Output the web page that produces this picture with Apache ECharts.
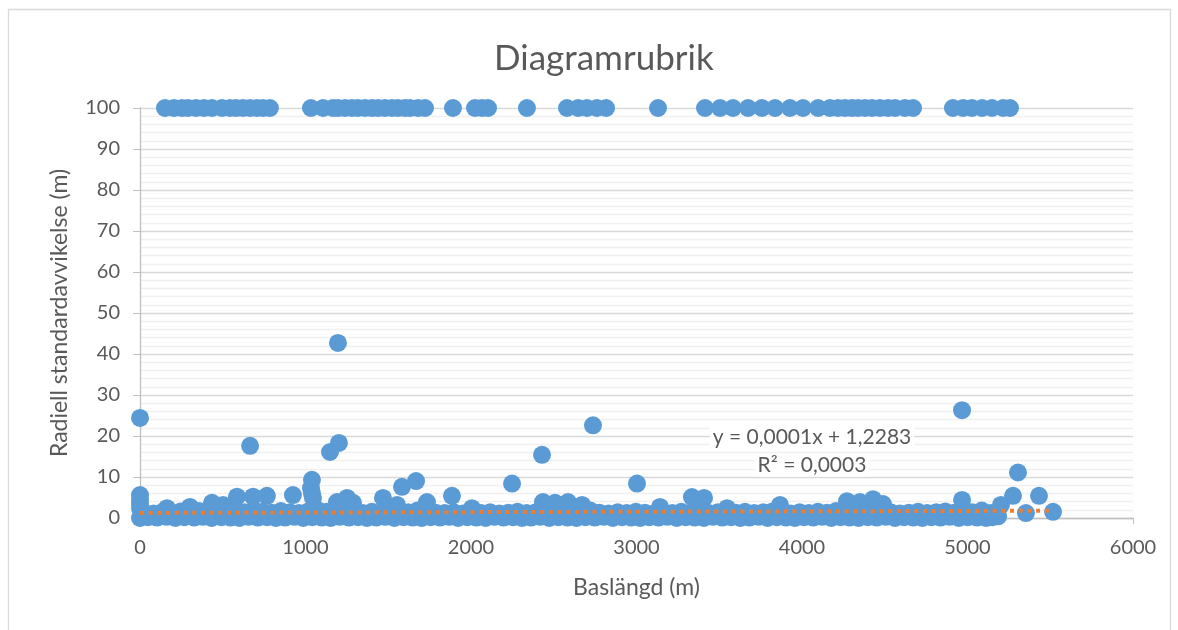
<!DOCTYPE html>
<html lang="sv">
<head>
    <meta charset="UTF-8">
    <script type="text/javascript" src="https://cdn.jsdelivr.net/npm/echarts@6/dist/echarts.min.js"></script>
    <style>
        html, body { margin: 0; padding: 0; background: #ffffff; }
        #main { width: 1178px; height: 630px; }
    </style>
</head>
<body>
    <div id="main"></div>
    <script type="text/javascript">
        // punkter som ligger på taket 100 m
        var topX = [151, 205, 254, 290, 338, 387, 435, 495, 544, 580, 622, 665, 707, 743, 785,
            1033, 1106, 1166, 1196, 1239, 1281, 1317, 1360, 1402, 1438, 1480, 1523, 1559, 1601, 1631, 1680, 1722,
            1891, 2024, 2066, 2103, 2338, 2580, 2647, 2701, 2761, 2816, 3130,
            3414, 3505, 3583, 3674, 3758, 3837, 3927, 4006, 4097, 4169, 4218, 4260, 4302, 4338, 4381, 4423,
            4471, 4520, 4562, 4622, 4671, 4912, 4973, 5027, 5088, 5148, 5215, 5257];
        var topY = 100;

        // enskilda avvikare
        var outliers = [
            [0, 24.4], [665, 17.6], [1148, 16.1], [1202, 18.3], [1196, 42.7], [2429, 15.4], [2737, 22.6],
            [4967, 26.3], [5305, 11.1], [2248, 8.4], [3003, 8.4], [1039, 9.3], [1033, 7.3], [1583, 7.6],
            [1668, 9.0], [0, 5.6], [0, 4.5], [0, 3.4], [0, 2.3], [586, 5.2], [683, 5.2], [767, 5.4],
            [924, 5.6], [1045, 4.9], [1039, 6.0], [1251, 4.9], [1468, 4.9], [1885, 5.4], [3335, 5.1],
            [3408, 4.9], [5275, 5.4], [5432, 5.4], [5353, 1.2], [5517, 1.5], [4967, 4.4], [5202, 3.2],
            [2435, 3.9], [2508, 3.7], [2586, 3.9], [2671, 3.2], [3867, 3.2], [4272, 4.1], [4350, 3.9],
            [4429, 4.6], [4489, 3.4], [163, 2.4], [302, 2.7], [435, 3.7], [502, 3.2], [1190, 3.9],
            [1287, 3.7], [1553, 3.2], [1734, 3.9], [2006, 2.4], [3142, 2.7], [3547, 2.4]
        ];

        // tätt band nära noll
        var bandLow = [
            [0, 0.0], [48, 0.2], [103, 0.1], [161, 0.3], [214, 0.0], [268, 0.2], [327, 0.1], [381, 0.3],
            [433, 0.0], [492, 0.2], [547, 0.1], [601, 0.0], [655, 0.3], [712, 0.1], [768, 0.2], [821, 0.0],
            [877, 0.1], [934, 0.3], [986, 0.0], [1041, 0.2], [1098, 0.1], [1152, 0.0], [1207, 0.3], [1263, 0.1],
            [1318, 0.2], [1371, 0.0], [1428, 0.1], [1482, 0.3], [1537, 0.0], [1593, 0.2], [1648, 0.1], [1702, 0.0],
            [1757, 0.2], [1813, 0.1], [1868, 0.3], [1922, 0.0], [1978, 0.2], [2033, 0.1], [2088, 0.0], [2142, 0.3],
            [2197, 0.1], [2253, 0.2], [2308, 0.0], [2362, 0.1], [2418, 0.3], [2473, 0.0], [2528, 0.2], [2583, 0.1],
            [2637, 0.0], [2692, 0.2], [2748, 0.1], [2803, 0.3], [2857, 0.0], [2913, 0.2], [2968, 0.1], [3022, 0.0],
            [3077, 0.2], [3133, 0.1], [3187, 0.3], [3243, 0.0], [3298, 0.2], [3352, 0.1], [3407, 0.0], [3462, 0.3],
            [3518, 0.1], [3572, 0.2], [3627, 0.0], [3683, 0.1], [3738, 0.3], [3792, 0.0], [3848, 0.2], [3903, 0.1],
            [3957, 0.0], [4012, 0.2], [4068, 0.1], [4122, 0.3], [4177, 0.0], [4233, 0.2], [4287, 0.1], [4342, 0.0],
            [4398, 0.2], [4452, 0.1], [4507, 0.3], [4562, 0.0], [4617, 0.2], [4672, 0.1], [4727, 0.0], [4782, 0.2],
            [4837, 0.1], [4892, 0.3], [4947, 0.0], [5002, 0.2], [5057, 0.1], [5112, 0.0], [5150, 0.2], [5185, 0.4]
        ];
        var bandHigh = [
            [25, 1.3], [82, 1.1], [137, 1.5], [192, 1.2], [246, 1.6], [301, 1.3], [356, 1.7], [411, 1.4],
            [466, 1.2], [521, 1.6], [576, 1.8], [631, 1.4], [686, 1.9], [741, 1.5], [796, 1.3], [851, 1.7],
            [906, 1.4], [961, 1.2], [1016, 1.6], [1071, 2.0], [1126, 1.5], [1181, 1.8], [1236, 1.6], [1291, 1.4],
            [1346, 1.2], [1401, 1.5], [1456, 1.3], [1511, 1.1], [1566, 1.6], [1621, 1.4], [1676, 1.8], [1731, 1.5],
            [1786, 1.3], [1841, 1.2], [1896, 1.4], [1951, 1.1], [2006, 1.3], [2061, 1.2], [2116, 1.4], [2171, 1.1],
            [2226, 1.3], [2281, 1.5], [2336, 1.2], [2391, 1.4], [2446, 1.6], [2501, 1.3], [2556, 1.5], [2611, 1.2],
            [2666, 1.4], [2721, 1.8], [2776, 1.3], [2831, 1.1], [2886, 1.4], [2941, 1.2], [2996, 1.5], [3051, 1.3],
            [3106, 1.1], [3161, 1.4], [3216, 1.2], [3271, 1.5], [3326, 1.3], [3381, 1.6], [3436, 1.2], [3491, 1.4],
            [3546, 1.1], [3601, 1.3], [3656, 1.5], [3711, 1.2], [3766, 1.4], [3821, 1.6], [3876, 1.3], [3931, 1.1],
            [3986, 1.4], [4041, 1.2], [4096, 1.5], [4151, 1.3], [4206, 1.7], [4261, 1.4], [4316, 1.6], [4371, 1.3],
            [4426, 1.5], [4481, 1.2], [4536, 1.4], [4591, 1.1], [4646, 1.3], [4701, 1.5], [4756, 1.2], [4811, 1.4],
            [4866, 1.6], [4921, 1.3], [4976, 2.2], [5031, 1.4], [5086, 1.8], [5141, 1.2], [5181, 1.5]
        ];

        // linjär trendlinje y = 0,0001x + 1,2283
        var trendX = [0, 5517];
        var trendY = [1.2283, 1.7800];

        var xTicks = [0, 1000, 2000, 3000, 4000, 5000, 6000];
        var yTicks = [0, 10, 20, 30, 40, 50, 60, 70, 80, 90, 100];

        var points = [];
        topX.forEach(function (x) { points.push([x, topY]); });
        bandLow.forEach(function (p) { points.push(p); });
        bandHigh.forEach(function (p) { points.push(p); });
        outliers.forEach(function (p) { points.push(p); });

        var trend = trendX.map(function (x, i) { return [x, trendY[i]]; });

        var font = 'Lato';
        var grey = '#595959';

        var myChart = echarts.init(document.getElementById('main'));
        var option = {
            animation: false,
            backgroundColor: '#ffffff',
            title: {
                text: 'Diagramrubrik',
                left: 489,
                top: 36,
                textStyle: { fontFamily: font, fontSize: 35, fontWeight: 'normal', color: grey }
            },
            grid: { left: 140, right: 45, top: 108, bottom: 112 },
            xAxis: {
                type: 'value',
                min: xTicks[0],
                max: xTicks[xTicks.length - 1],
                interval: 1000,
                name: 'Baslängd (m)',
                nameLocation: 'middle',
                nameGap: 58,
                nameTextStyle: { fontFamily: font, fontSize: 23, color: grey },
                axisLine: { show: true, onZero: false, lineStyle: { color: '#bfbfbf', width: 1.3 } },
                axisTick: { show: true, length: 6, lineStyle: { color: '#bfbfbf' } },
                axisLabel: {
                    fontFamily: font, fontSize: 20, color: grey, margin: 20,
                    formatter: function (v) { return String(v); }
                },
                splitLine: { show: false }
            },
            yAxis: {
                type: 'value',
                min: yTicks[0],
                max: yTicks[yTicks.length - 1],
                interval: 10,
                name: 'Radiell standardavvikelse (m)',
                nameLocation: 'middle',
                nameGap: 69,
                nameTextStyle: { fontFamily: font, fontSize: 23, color: grey },
                axisLine: { show: true, lineStyle: { color: '#bfbfbf', width: 1.3 } },
                axisTick: { show: true, length: 7, lineStyle: { color: '#bfbfbf' } },
                axisLabel: { fontFamily: font, fontSize: 20, color: grey, margin: 20 },
                splitLine: { show: true, lineStyle: { color: '#d9d9d9', width: 1.3 } },
                minorTick: { show: false, splitNumber: 5 },
                minorSplitLine: { show: true, lineStyle: { color: '#f0f0f0', width: 1.3 } }
            },
            series: [
                {
                    name: 'Radiell standardavvikelse',
                    type: 'scatter',
                    symbol: 'circle',
                    symbolSize: 18,
                    large: false,
                    progressive: 0,
                    itemStyle: { color: '#5b9bd5', opacity: 1 },
                    data: points,
                    z: 2
                },
                {
                    name: 'Linjär',
                    type: 'line',
                    data: trend,
                    symbol: 'none',
                    lineStyle: { color: '#ed7d31', width: 4, type: [4, 4.7] },
                    z: 5
                }
            ],
            graphic: [
                {
                    type: 'rect',
                    shape: { x: 8.5, y: 9.5, width: 1162, height: 640 },
                    style: { fill: 'none', stroke: '#d9d9d9', lineWidth: 1.3 },
                    silent: true
                },
                {
                    type: 'text',
                    x: 812, y: 437,
                    z: 10,
                    style: {
                        text: 'y = 0,0001x + 1,2283', fontFamily: font, fontSize: 21, fill: grey,
                        align: 'center', verticalAlign: 'middle',
                        backgroundColor: '#ffffff', padding: [1, 3]
                    }
                },
                {
                    type: 'text',
                    x: 812, y: 465,
                    z: 10,
                    style: {
                        text: 'R² = 0,0003', fontFamily: font, fontSize: 21, fill: grey,
                        align: 'center', verticalAlign: 'middle',
                        backgroundColor: '#ffffff', padding: [1, 3]
                    }
                }
            ]
        };
        myChart.setOption(option);
    </script>
</body>
</html>
